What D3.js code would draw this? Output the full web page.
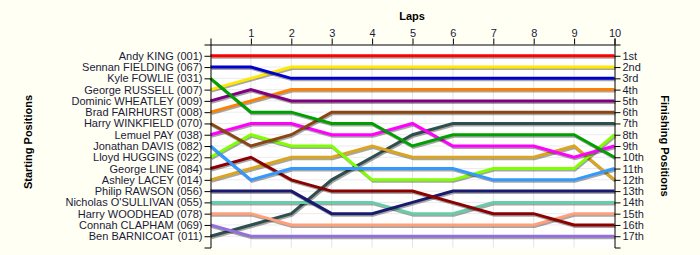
<!DOCTYPE html>
<html><head><meta charset="utf-8">
<script src="https://cdn.jsdelivr.net/npm/d3@7"></script>
<style>
html,body{margin:0;padding:0;background:#FFFFF3;}
svg{display:block;font-family:"Liberation Sans",Arial,sans-serif;}
</style></head><body>
<svg id="c" width="700" height="255"></svg>
<script>
const drivers = ["Andy KING (001)","Sennan FIELDING (067)","Kyle FOWLIE (031)","George RUSSELL (007)","Dominic WHEATLEY (009)","Brad FAIRHURST (008)","Harry WINKFIELD (070)","Lemuel PAY (038)","Jonathan DAVIS (082)","Lloyd HUGGINS (022)","George LINE (084)","Ashley LACEY (014)","Philip RAWSON (056)","Nicholas O'SULLIVAN (055)","Harry WOODHEAD (078)","Connah CLAPHAM (069)","Ben BARNICOAT (011)"];
const colors = ["#FF0000","#0000CC","#00A000","#FFE800","#800080","#FF8000","#8B4513","#FF00FF","#3399FF","#80FF00","#8B0000","#DAA520","#191970","#66CDAA","#FFA07A","#9370DB","#2F4F4F"];
const laps = [0,1,2,3,4,5,6,7,8,9,10];
const lapTicks = [1,2,3,4,5,6,7,8,9,10];
const finishLabels = ["1st","2nd","3rd","4th","5th","6th","7th","8th","9th","10th","11th","12th","13th","14th","15th","16th","17th"];
// positions per driver at laps 0..10
const positions = [
  [1,1,1,1,1,1,1,1,1,1,1],
  [2,2,3,3,3,3,3,3,3,3,3],
  [3,6,6,7,7,9,8,8,8,8,10],
  [4,3,2,2,2,2,2,2,2,2,2],
  [5,4,5,5,5,5,5,5,5,5,5],
  [6,5,4,4,4,4,4,4,4,4,4],
  [7,9,8,6,6,6,6,6,6,6,6],
  [8,7,7,8,8,7,9,9,9,10,9],
  [9,12,11,11,11,11,11,12,12,12,11],
  [10,8,9,9,12,12,12,11,11,11,8],
  [11,10,12,13,13,13,14,15,15,16,16],
  [12,11,10,10,9,10,10,10,10,9,12],
  [13,13,13,15,15,14,13,13,13,13,13],
  [14,14,14,14,14,15,15,14,14,14,14],
  [15,15,16,16,16,16,16,16,16,15,15],
  [16,17,17,17,17,17,17,17,17,17,17],
  [17,16,15,12,10,8,7,7,7,7,7]
];

const svg = d3.select("#c");
const x = d3.scaleLinear().domain([0,10]).range([210.5,614.5]);
const y = d3.scaleLinear().domain([0,18]).range([44.5,247.5]);
const rows = d3.range(1,18);

// plot background
svg.append("rect").attr("x",x(0)).attr("y",y(0)).attr("width",x(10)-x(0)).attr("height",y(18)-y(0)).attr("fill","#FFFFFF");

// grid
const g = svg.append("g");
g.selectAll("line.v").data(lapTicks.slice(0,9)).join("line")
  .attr("x1",d=>x(d)).attr("x2",d=>x(d)).attr("y1",y(0)).attr("y2",y(18))
  .attr("stroke","#E4E4E4").attr("stroke-width",1);
g.selectAll("line.h").data(rows).join("line")
  .attr("x1",x(0)).attr("x2",x(10)).attr("y1",d=>y(d)).attr("y2",d=>y(d))
  .attr("stroke","#EBEBEB").attr("stroke-width",1);

const line = d3.line().x((d,i)=>x(laps[i])).y(d=>y(d));
const order = d3.range(drivers.length).reverse();
const lg = svg.append("g");
order.forEach(i=>{
  lg.append("path").attr("d",line(positions[i])).attr("fill","none")
    .attr("stroke","#000").attr("stroke-opacity",0.35).attr("stroke-width",3)
    .attr("transform","translate(1,1.5)");
  lg.append("path").attr("d",line(positions[i])).attr("fill","none")
    .attr("stroke",colors[i]).attr("stroke-width",3);
});

// axes
const fs = "11px";
const axLeft = svg.append("g").attr("transform",`translate(${x(0)},0)`)
  .call(d3.axisLeft(y).tickValues(rows).tickFormat(d=>drivers[d-1]).tickSize(6).tickSizeOuter(6).tickPadding(2));
const axRight = svg.append("g").attr("transform",`translate(${x(10)},0)`)
  .call(d3.axisRight(y).tickValues(rows).tickFormat(d=>finishLabels[d-1]).tickSize(6).tickSizeOuter(6).tickPadding(2));
const axTop = svg.append("g").attr("transform",`translate(0,${y(0)})`)
  .call(d3.axisTop(x).tickValues(lapTicks).tickFormat(d3.format("d")).tickSize(6).tickSizeOuter(6).tickPadding(2));
[axLeft,axRight,axTop].forEach(a=>{
  a.selectAll("text").attr("font-size",fs).attr("fill","#1A1A3C").attr("font-family","'Liberation Sans',Arial,sans-serif");
  a.selectAll("path,line").attr("stroke","#000");
  a.attr("font-size",fs);
});

// titles
svg.append("text").attr("x",412).attr("y",20).attr("text-anchor","middle")
  .attr("font-size","11px").attr("font-weight","bold").text("Laps");
svg.append("text").attr("transform","translate(32,142) rotate(-90)").attr("text-anchor","middle")
  .attr("font-size","11px").attr("font-weight","bold").text("Starting Positions");
svg.append("text").attr("transform","translate(661,146) rotate(90)").attr("text-anchor","middle")
  .attr("font-size","11px").attr("font-weight","bold").text("Finishing Positions");
</script>
</body></html>
